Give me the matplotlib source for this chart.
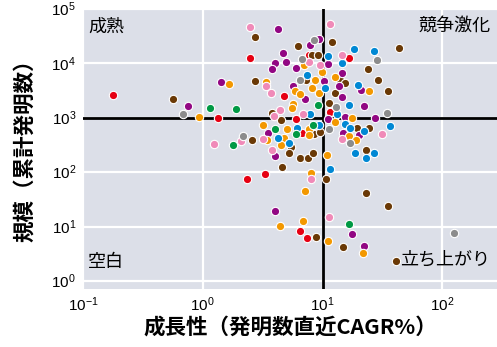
import numpy as np
import matplotlib
matplotlib.use("Agg")
import matplotlib.pyplot as plt
from matplotlib.ticker import NullLocator

plt.rcParams['font.family'] = ['Noto Sans CJK JP', 'DejaVu Sans']
plt.rcParams['mathtext.fontset'] = 'custom'
plt.rcParams['mathtext.rm'] = 'Liberation Sans'
plt.rcParams['mathtext.it'] = 'Liberation Sans'

# growth (CAGR %) and size (cumulative inventions) per technology, grouped by colour
red_x = [0.177, 1.33, 2.50, 4.75, 7.64, 16.5, 11.5, 6.0, 6.80, 3.31, 2.36, 6.43, 7.46]
red_y = [2630, 990, 12500, 2520, 14400, 12300, 1300, 947, 525, 91.6, 74.1, 8.13, 6.14]

brown_x = [0.562, 2.73, 6.27, 12.0, 8.20, 9.12, 43.6, 24.0, 2.75, 7.31, 13.9, 15.4,
           12.8, 28.8, 35.5, 11.4, 3.77, 4.48, 19.4, 24.6, 8.53, 9.48, 2.59, 5.48,
           5.23, 6.54, 7.57, 8.25, 23.2, 4.57, 10.7, 23.1, 35.3, 8.86, 14.9, 41.1]
brown_y = [2260, 30900, 20700, 25200, 14400, 14400, 19000, 7870, 4830, 4950, 4990, 4300,
           2860, 4990, 3080, 1870, 1230, 908, 640, 642, 497, 559, 391, 295,
           223, 183, 183, 224, 253, 126, 73.6, 42.0, 23.6, 6.40, 4.28, 2.33]

purple_x = [0.756, 1.41, 4.22, 7.90, 9.39, 4.70, 4.04, 3.81, 4.98, 6.0, 11.0, 14.6,
            5.62, 7.08, 10.3, 13.8, 14.5, 21.1, 22.3, 27.3, 15.5, 11.0, 3.53, 3.98,
            20.0, 14.8, 4.01, 17.7, 22.0]
purple_y = [1660, 4620, 42400, 22200, 28000, 15700, 10000, 7930, 10800, 8110, 9800, 6650,
            3800, 2200, 4790, 3770, 2410, 3180, 1660, 990, 1050, 935, 514, 202,
            486, 519, 19.5, 7.18, 4.33]

orange_x = [0.926, 1.66, 6.95, 9.85, 3.38, 5.92, 6.48, 8.73, 8.20, 9.30, 12.6, 24.5,
            5.64, 5.56, 12.6, 17.7, 3.21, 5.05, 7.67, 7.70, 3.45, 4.73, 4.50, 16.7,
            19.2, 10.9, 7.97, 7.17, 6.90, 4.44, 11.2, 21.7]
orange_y = [1020, 4190, 9310, 6930, 4530, 3120, 2750, 5030, 3530, 2860, 5550, 3080,
            1800, 1520, 841, 1010, 736, 614, 629, 473, 386, 430, 314, 462,
            391, 205, 97.5, 44.4, 12.9, 10.2, 5.35, 3.27]

blue_x = [11.0, 18.2, 26.9, 14.5, 7.43, 10.4, 19.9, 16.6, 13.1, 7.90, 6.15, 9.30,
          4.26, 5.25, 15.5, 16.9, 22.0, 36.6, 18.7, 27.0, 23.2, 11.5]
blue_y = [13700, 18000, 16600, 10100, 5990, 3530, 4010, 1710, 1190, 1150, 640, 726,
          417, 337, 783, 640, 576, 720, 229, 223, 179, 114]

pink_x = [1.24, 2.07, 2.50, 11.5, 7.70, 9.57, 14.5, 3.34, 3.72, 4.44, 3.92, 6.90,
          3.16, 3.79, 14.5, 31.6, 8.05, 11.3]
pink_y = [335, 375, 47100, 52700, 10600, 9460, 14200, 3770, 2860, 1400, 1100, 1190,
          413, 256, 403, 497, 75.7, 14.9]

green_x = [1.14, 1.91, 1.79, 9.09, 4.01, 8.37, 6.0, 16.5]
green_y = [1520, 1460, 310, 1710, 629, 736, 497, 11.2]

gray_x = [0.687, 2.18, 8.53, 6.75, 28.7, 6.46, 13.0, 34.3, 11.4, 17.0, 126]
gray_y = [1180, 462, 26500, 12200, 11500, 4990, 1610, 1220, 621, 344, 7.48]

x_ticks = [0.1, 1, 10, 100]
x_tick_labels = ['$10^{-1}$', '$10^{0}$', '$10^{1}$', '$10^{2}$']
y_ticks = [1, 10, 100, 1000, 10000, 100000]
y_tick_labels = ['$10^{0}$', '$10^{1}$', '$10^{2}$', '$10^{3}$', '$10^{4}$', '$10^{5}$']

series = [
    (red_x, red_y, '#e60012'),
    (brown_x, brown_y, '#6a3906'),
    (purple_x, purple_y, '#920783'),
    (orange_x, orange_y, '#f39800'),
    (blue_x, blue_y, '#0088d4'),
    (pink_x, pink_y, '#f08ab8'),
    (green_x, green_y, '#009944'),
    (gray_x, gray_y, '#8c8c8c'),
]

fig = plt.figure(figsize=(4.97, 3.47), dpi=100)
ax = fig.add_axes([83 / 497, 58 / 347, 414 / 497, 280 / 347])
ax.set_facecolor('#dcdfe8')

ax.set_xscale('log')
ax.set_yscale('log')
ax.set_xlim(0.1, 286)
ax.set_ylim(0.71, 93000)

# white decade grid
ax.set_xticks(x_ticks)
ax.set_yticks(y_ticks)
ax.set_xticklabels(x_tick_labels)
ax.set_yticklabels(y_tick_labels)
ax.xaxis.set_minor_locator(NullLocator())
ax.yaxis.set_minor_locator(NullLocator())
ax.grid(True, color='white', linewidth=1.6)
ax.set_axisbelow(True)
ax.tick_params(length=0, labelsize=11, pad=5)
for s in ax.spines.values():
    s.set_visible(False)

# quadrant dividers
ax.axvline(10, color='black', linewidth=2.0, zorder=2)
ax.axhline(1000, color='black', linewidth=2.0, zorder=2)

for xs, ys, col in series:
    ax.scatter(xs, ys, s=36, c=col, edgecolors='white', linewidths=0.8, zorder=3)

ax.text(0.012, 0.936, '成熟', transform=ax.transAxes, fontsize=13,
        ha='left', va='center', zorder=4)
ax.text(0.985, 0.939, '競争激化', transform=ax.transAxes, fontsize=13,
        ha='right', va='center', zorder=4)
ax.text(0.012, 0.096, '空白', transform=ax.transAxes, fontsize=13,
        ha='left', va='center', zorder=4)
ax.text(0.983, 0.104, '立ち上がり', transform=ax.transAxes, fontsize=13,
        ha='right', va='center', zorder=4)

fig.text(290 / 497, 1 - 327 / 347, '成長性（発明数直近CAGR%）', fontsize=15.5,
         fontweight='bold', ha='center', va='center')
fig.text(24 / 497, 1 - 145 / 347, '規模（累計発明数）', fontsize=15.5,
         fontweight='bold', ha='center', va='center', rotation=90)

fig.savefig('out.png', dpi=100)
